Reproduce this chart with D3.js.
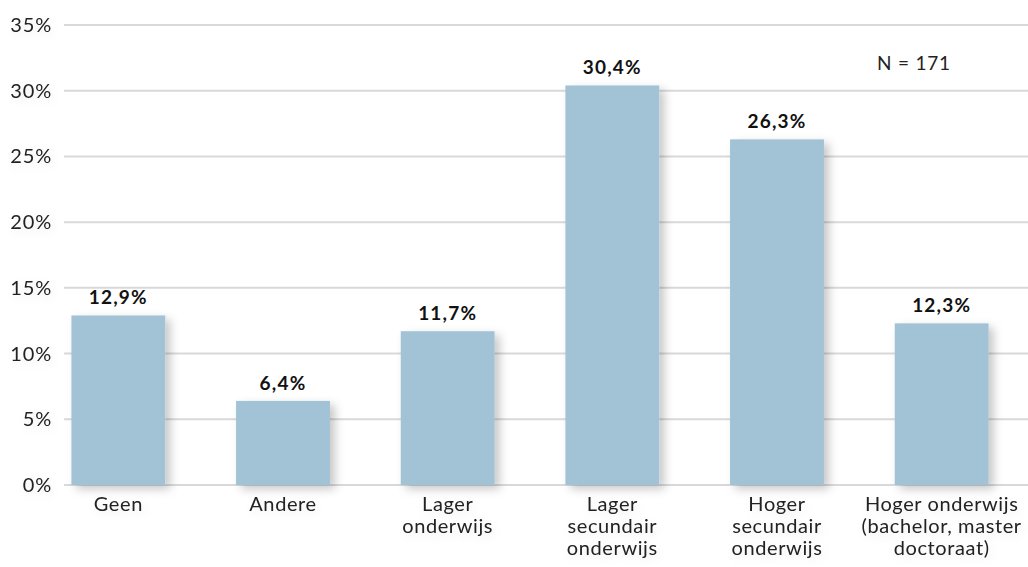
<!DOCTYPE html>
<html>
<head>
<meta charset="utf-8">
<script src="https://cdn.jsdelivr.net/npm/d3@7"></script>
<style>
  html, body { margin: 0; padding: 0; background: #ffffff; }
  svg { display: block; font-family: Lato, "Open Sans", sans-serif; }
</style>
</head>
<body>
<svg id="chart" width="1028" height="567"></svg>
<script>
// Opleidingsniveau: aandeel per categorie (%)
const categories = [
  ["Geen"],
  ["Andere"],
  ["Lager", "onderwijs"],
  ["Lager", "secundair", "onderwijs"],
  ["Hoger", "secundair", "onderwijs"],
  ["Hoger onderwijs", "(bachelor, master", "doctoraat)"]
];
const values = [12.9, 6.4, 11.7, 30.4, 26.3, 12.3];
const yTicks = [0, 5, 10, 15, 20, 25, 30, 35];
const note = "N = 171";

const svg = d3.select("#chart");
const W = 1028, H = 567;

const defs = svg.append("defs");
const f = defs.append("filter").attr("id", "shadow")
  .attr("x", "-20%").attr("y", "-20%").attr("width", "150%").attr("height", "150%");
f.append("feDropShadow")
  .attr("dx", 5).attr("dy", 4).attr("stdDeviation", 5)
  .attr("flood-color", "#000").attr("flood-opacity", 0.22);

const tf = defs.append("filter").attr("id", "tshadow")
  .attr("x", "-30%").attr("y", "-50%").attr("width", "160%").attr("height", "200%");
tf.append("feDropShadow")
  .attr("dx", 2).attr("dy", 3).attr("stdDeviation", 4)
  .attr("flood-color", "#000").attr("flood-opacity", 0.08);

const x = d3.scaleBand()
  .domain(d3.range(categories.length))
  .range([36, 1024])
  .paddingInner(0.43)
  .paddingOuter(0.215);

const y = d3.scaleLinear().domain([0, 35]).range([485, 25]);

// Horizontal gridlines
svg.append("g")
  .selectAll("line")
  .data(yTicks)
  .join("line")
  .attr("x1", 64).attr("x2", W)
  .attr("y1", d => y(d)).attr("y2", d => y(d))
  .attr("stroke", "#d9d9d9").attr("stroke-width", 2);

// Y tick labels
svg.append("g")
  .selectAll("text")
  .data(yTicks)
  .join("text")
  .attr("x", 52).attr("y", d => y(d))
  .attr("dy", "0.35em")
  .attr("text-anchor", "end")
  .attr("font-size", 20)
  .attr("letter-spacing", 0.8)
  .attr("fill", "#222")
  .attr("filter", "url(#tshadow)")
  .text(d => d + "%");

// Bars
svg.append("g")
  .selectAll("rect")
  .data(values)
  .join("rect")
  .attr("x", (d, i) => x(i))
  .attr("width", x.bandwidth())
  .attr("y", d => y(d))
  .attr("height", d => y(0) - y(d))
  .attr("fill", "#a2c2d6")
  .attr("filter", "url(#shadow)");

// Value labels
const fmt = v => v.toFixed(1).replace(".", ",") + "%";
svg.append("g")
  .selectAll("text")
  .data(values)
  .join("text")
  .attr("x", (d, i) => x(i) + x.bandwidth() / 2)
  .attr("y", d => y(d) - 11)
  .attr("text-anchor", "middle")
  .attr("font-size", 19)
  .attr("letter-spacing", 1.2)
  .attr("font-weight", "bold")
  .attr("fill", "#111")
  .text(d => fmt(d));

// Category labels
const cat = svg.append("g")
  .selectAll("text")
  .data(categories)
  .join("text")
  .attr("text-anchor", "middle")
  .attr("font-size", 20)
  .attr("letter-spacing", 0.6)
  .attr("fill", "#222")
  .attr("filter", "url(#tshadow)");
cat.selectAll("tspan")
  .data((d, i) => d.map(line => ({ line, i })))
  .join("tspan")
  .attr("x", d => x(d.i) + x.bandwidth() / 2)
  .attr("y", (d, j) => 511 + j * 22)
  .text(d => d.line);

// Sample size note
svg.append("text")
  .attr("x", 877).attr("y", 70)
  .attr("font-size", 19)
  .attr("letter-spacing", 0.8)
  .attr("fill", "#222")
  .text(note);
</script>
</body>
</html>
